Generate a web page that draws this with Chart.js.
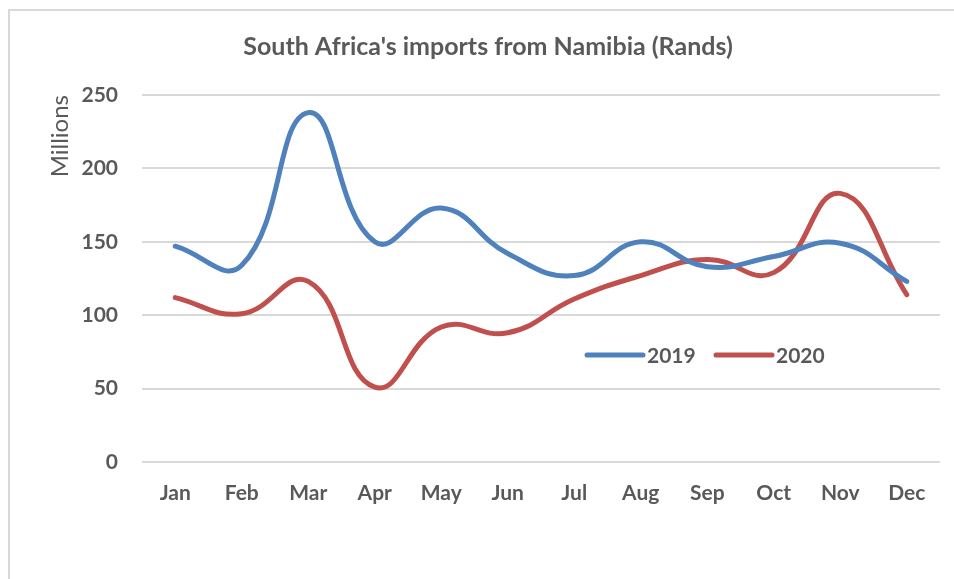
<!DOCTYPE html>
<html>
<head>
<meta charset="utf-8">
<script src="https://cdn.jsdelivr.net/npm/chart.js@4"></script>
<style>
  html, body { margin: 0; padding: 0; background: #fff; }
  #wrap { width: 954px; height: 579px; }
</style>
</head>
<body>
<div id="wrap"><canvas id="importsChart" width="954" height="579"></canvas></div>
<script>
// chart values (millions of rands)
var months = ["Jan", "Feb", "Mar", "Apr", "May", "Jun", "Jul", "Aug", "Sep", "Oct", "Nov", "Dec"];
var imports2019 = [147, 134, 238, 150, 173, 142, 127, 150, 133, 140, 149, 123];
var imports2020 = [112, 101, 123, 51, 92, 88, 111, 127, 138, 129, 183, 114];
var seriesNames = ["2019", "2020"];
var seriesColors = ["#4F81BD", "#C0504D"];
var yMin = 0, yMax = 250, yStep = 50;

var textColor = "#595959";
var gridColor = "#d9d9d9";

// light frame round the chart, like the spreadsheet export
var framePlugin = {
  id: "frame",
  beforeDraw: function(chart) {
    var ctx = chart.ctx;
    ctx.save();
    ctx.fillStyle = "#fff";
    ctx.fillRect(0, 0, chart.width, chart.height);
    ctx.strokeStyle = gridColor;
    ctx.lineWidth = 2;
    ctx.strokeRect(9, 10, chart.width + 20, chart.height + 20);
    ctx.restore();
  }
};

// legend sits inside the plot area
var insideLegend = {
  id: "insideLegend",
  afterDatasetsDraw: function(chart) {
    var ctx = chart.ctx;
    var x = 587, y = 355;
    ctx.save();
    ctx.font = "bold 21px Lato";
    ctx.textBaseline = "middle";
    chart.data.datasets.forEach(function(ds) {
      ctx.strokeStyle = ds.borderColor;
      ctx.lineWidth = 5;
      ctx.lineCap = "round";
      ctx.beginPath();
      ctx.moveTo(x, y);
      ctx.lineTo(x + 56, y);
      ctx.stroke();
      ctx.fillStyle = textColor;
      ctx.fillText(ds.label, x + 60, y + 1);
      x += 129;
    });
    ctx.restore();
  }
};

var datasets = [imports2019, imports2020].map(function(vals, i) {
  return {
    label: seriesNames[i],
    data: vals,
    borderColor: seriesColors[i],
    backgroundColor: seriesColors[i],
    borderWidth: 5,
    borderCapStyle: "round",
    borderJoinStyle: "round",
    pointRadius: 0,
    pointHoverRadius: 0,
    tension: 0.45,
    fill: false
  };
});

var ctx = document.getElementById("importsChart");

var importsChart = new Chart(ctx, {
  type: "line",
  data: { labels: months, datasets: datasets },
  options: {
    responsive: false,
    animation: false,
    devicePixelRatio: 1,
    layout: { padding: { left: 36, right: 14, top: 0, bottom: 0 } },
    plugins: {
      legend: { display: false },
      tooltip: { enabled: false },
      title: {
        display: true,
        text: "South Africa's imports from Namibia (Rands)",
        color: textColor,
        font: { family: "Lato", size: 25, weight: "bold", lineHeight: 1.2 },
        padding: { top: 32, bottom: 33 }
      }
    },
    scales: {
      x: {
        offset: true,
        grid: { display: false, drawTicks: false },
        border: { display: false },
        ticks: {
          color: textColor,
          padding: 19,
          maxRotation: 0,
          font: { family: "Lato", size: 21, weight: "bold" }
        },
        afterFit: function(scale) { scale.height = 117; }
      },
      y: {
        min: yMin,
        max: yMax,
        grid: { color: gridColor, lineWidth: 2, drawTicks: false },
        border: { display: false },
        ticks: {
          stepSize: yStep,
          color: textColor,
          padding: 24,
          font: { family: "Lato", size: 21, weight: "bold" }
        },
        title: {
          display: true,
          text: "Millions",
          align: "end",
          color: textColor,
          font: { family: "Lato", size: 24, weight: "normal" },
          padding: { top: 10, bottom: 0 }
        },
        afterFit: function(scale) { scale.width = 106; }
      }
    }
  },
  plugins: [framePlugin, insideLegend]
});
</script>
</body>
</html>
